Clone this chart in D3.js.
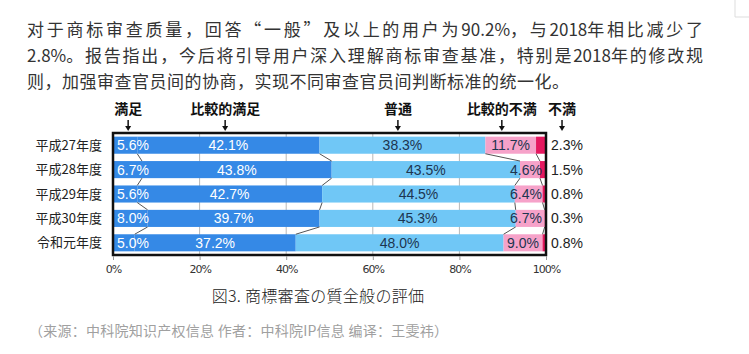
<!DOCTYPE html>
<html>
<head>
<meta charset="utf-8">
<script src="https://cdn.jsdelivr.net/npm/d3@7"></script>
<style>
  body { margin: 0; background: #fff; }
  svg { display: block; }
</style>
</head>
<body>
<svg id="chart"></svg>
<script>
// Data
let introLines = [
  "对于商标审查质量，回答“一般”及以上的用户为90.2%，与2018年相比减少了",
  "2.8%。报告指出，今后将引导用户深入理解商标审查基准，特别是2018年的修改规",
  "则，加强审查官员间的协商，实现不同审查官员间判断标准的统一化。",
];
let years = ["平成27年度", "平成28年度", "平成29年度", "平成30年度", "令和元年度"];
let categories = ["満足", "比較的満足", "普通", "比較的不満", "不満"];
let manzoku = [5.6, 6.7, 5.6, 8.0, 5.0];
let hikakuManzoku = [42.1, 43.8, 42.7, 39.7, 37.2];
let futsuu = [38.3, 43.5, 44.5, 45.3, 48.0];
let hikakuFuman = [11.7, 4.6, 6.4, 6.7, 9.0];
let fuman = [2.3, 1.5, 0.8, 0.3, 0.8];
let headerAt = [3.5, 25.9, 65.8, 89.8, 103.7]; // header arrow positions (% of axis)
let xTicks = [0, 20, 40, 60, 80, 100];
let caption = "図3. 商標審査の質全般の評価";
let source = "（来源：中科院知识产权信息 作者：中科院IP信息 编译：王雯祎）";

let series = [manzoku, hikakuManzoku, futsuu, hikakuFuman, fuman];
let data = years.map((y, i) => {
  let row = { year: y };
  categories.forEach((c, j) => (row[c] = series[j][i]));
  return row;
});

let W = 749, H = 354;
let margin = { top: 133, right: 203, bottom: 99, left: 113 };
let width = W - margin.left - margin.right,
  height = H - margin.top - margin.bottom;

let svg = d3.select("#chart").attr("width", W).attr("height", H);

// Intro paragraph (first two lines justified like the page text)
let textWidth = 676;
let intro = svg
  .append("g")
  .selectAll("text")
  .data(introLines)
  .enter()
  .append("text")
  .attr("x", 27)
  .attr("y", (d, i) => 36 + i * 26)
  .style("font-family", "'Noto Sans CJK SC', sans-serif")
  .style("font-size", "17px")
  .attr("fill", "#333");

intro.each(function (line, i) {
  let t = d3.select(this);
  let runs = line.match(/[\x00-\x7f]+|[^\x00-\x7f]+/g);
  let spans = runs.map((r) =>
    t.append("tspan").text(r).datum(/[^\x00-\x7f]/.test(r))
  );
  if (i === introLines.length - 1) {
    spans.forEach((s) => s.style("letter-spacing", "0.5px"));
    return;
  }
  let natural = this.getComputedTextLength();
  let nCjk = runs.filter((r) => /[^\x00-\x7f]/.test(r)).join("").length - 1;
  let extra = (textWidth - natural) / nCjk;
  spans.forEach((s) => {
    if (s.datum()) s.style("letter-spacing", extra + "px");
  });
});

// corner of a box at the top right
svg
  .append("path")
  .attr("d", "M735,0V17H749")
  .attr("fill", "none")
  .attr("stroke", "#ddd");

let g = svg
  .append("g")
  .attr("transform", `translate(${margin.left},${margin.top})`);

// Scales
let x = d3.scaleLinear().domain([0, 100]).range([0, width]);
let y = d3
  .scaleBand()
  .domain(years)
  .range([0, height])
  .paddingInner(0.3)
  .paddingOuter(0.15);

let color = d3
  .scaleOrdinal()
  .domain(categories)
  .range(["#3589e6", "#3589e6", "#70c7f6", "#f6a2c9", "#e5185f"]);

let stack = d3.stack().keys(categories)(data);

// Gridlines
g.append("g")
  .selectAll("line")
  .data(xTicks.slice(1, -1))
  .enter()
  .append("line")
  .attr("x1", (d) => x(d))
  .attr("x2", (d) => x(d))
  .attr("y1", 0)
  .attr("y2", height)
  .attr("stroke", "#b8b8b8");

// Bars
g.append("g")
  .selectAll("g")
  .data(stack)
  .enter()
  .append("g")
  .attr("fill", (d) => color(d.key))
  .selectAll("rect")
  .data((d) => d)
  .enter()
  .append("rect")
  .attr("x", (d) => x(d[0]))
  .attr("y", (d) => y(d.data.year))
  .attr("width", (d) => Math.max(0, Math.min(x(d[1]), width) - x(d[0])))
  .attr("height", y.bandwidth());

// Connector lines between rows
let links = [];
stack.slice(0, 4).forEach((s) => {
  for (let i = 0; i < s.length - 1; i++) {
    links.push({ a: s[i][1], b: s[i + 1][1], i: i });
  }
});
g.append("g")
  .selectAll("line")
  .data(links)
  .enter()
  .append("line")
  .attr("x1", (d) => x(d.a))
  .attr("x2", (d) => x(d.b))
  .attr("y1", (d) => y(years[d.i]) + y.bandwidth())
  .attr("y2", (d) => y(years[d.i + 1]))
  .attr("stroke", "#555")
  .attr("stroke-width", 1);

// Value labels inside the bars
let labels = [];
stack.slice(0, 4).forEach((s, k) => {
  s.forEach((d) => labels.push({ k: k, d: d }));
});
g.append("g")
  .selectAll("text")
  .data(labels)
  .enter()
  .append("text")
  .attr("x", (l) => {
    if (l.k === 0) return x(l.d[0]) + 4;
    let c = (x(l.d[0]) + x(l.d[1])) / 2;
    return Math.min(c, width - 20);
  })
  .attr("y", (l) => y(l.d.data.year) + y.bandwidth() / 2)
  .attr("dy", "0.36em")
  .attr("text-anchor", (l) => (l.k === 0 ? "start" : "middle"))
  .style("font-family", "'Liberation Sans', Arial, sans-serif")
  .style("font-size", "14px")
  .attr("fill", (l) => (l.k < 2 ? "#fff" : "#1d3550"))
  .text((l) => (l.d[1] - l.d[0]).toFixed(1) + "%");

// Last category outside the frame
g.append("g")
  .selectAll("text")
  .data(data)
  .enter()
  .append("text")
  .attr("x", width + 5)
  .attr("y", (d) => y(d.year) + y.bandwidth() / 2)
  .attr("dy", "0.36em")
  .style("font-family", "'Liberation Sans', Arial, sans-serif")
  .style("font-size", "14px")
  .attr("fill", "#222")
  .text((d) => d["不満"].toFixed(1) + "%");

// Frame
g.append("rect")
  .attr("x", 0)
  .attr("y", 0)
  .attr("width", width)
  .attr("height", height)
  .attr("fill", "none")
  .attr("stroke", "#111")
  .attr("stroke-width", 2.5);

// X axis
let xAxis = g
  .append("g")
  .attr("transform", `translate(0,${height + 1})`)
  .call(
    d3
      .axisBottom(x)
      .tickValues(xTicks)
      .tickSize(4)
      .tickFormat((d) => d + "%")
  );
xAxis.select(".domain").remove();
xAxis.selectAll("line").attr("stroke", "#999");
xAxis
  .selectAll("text")
  .attr("dy", "0.9em")
  .style("font-family", "'DejaVu Sans', sans-serif")
  .style("font-size", "11px")
  .style("letter-spacing", "-1px")
  .attr("fill", "#333");

// Year labels
g.append("g")
  .selectAll("text")
  .data(years)
  .enter()
  .append("text")
  .attr("x", -11)
  .attr("y", (d) => y(d) + y.bandwidth() / 2)
  .attr("dy", "0.36em")
  .attr("text-anchor", "end")
  .style("font-family", "'Noto Sans CJK JP', sans-serif")
  .style("font-size", "13px")
  .attr("fill", "#222")
  .text((d) => d);

// Category headers with arrows
let head = g
  .append("g")
  .selectAll("g")
  .data(categories)
  .enter()
  .append("g")
  .attr("transform", (d, i) => `translate(${x(headerAt[i])},0)`);

head
  .append("text")
  .attr("y", -19)
  .attr("text-anchor", "middle")
  .style("font-family", "'Noto Sans CJK JP', sans-serif")
  .style("font-size", "14px")
  .style("font-weight", "bold")
  .attr("fill", "#111")
  .text((d) => d);

head
  .append("line")
  .attr("y1", -13)
  .attr("y2", -6)
  .attr("stroke", "#111")
  .attr("stroke-width", 1.5);

head
  .append("path")
  .attr("d", "M-3,-7L3,-7L0,-2Z")
  .attr("fill", "#111");

// Caption
svg
  .append("text")
  .attr("x", 318)
  .attr("y", 302)
  .attr("text-anchor", "middle")
  .style("font-family", "'Noto Sans CJK JP', sans-serif")
  .style("font-size", "16px")
  .style("font-weight", "300")
  .style("letter-spacing", "0.3px")
  .attr("fill", "#222")
  .text(caption);

// Source line
svg
  .append("text")
  .attr("x", 29)
  .attr("y", 336)
  .style("font-family", "'Noto Sans CJK SC', sans-serif")
  .style("font-size", "14px")
  .style("letter-spacing", "0.25px")
  .attr("fill", "#a0a0a0")
  .text(source);
</script>
</body>
</html>
